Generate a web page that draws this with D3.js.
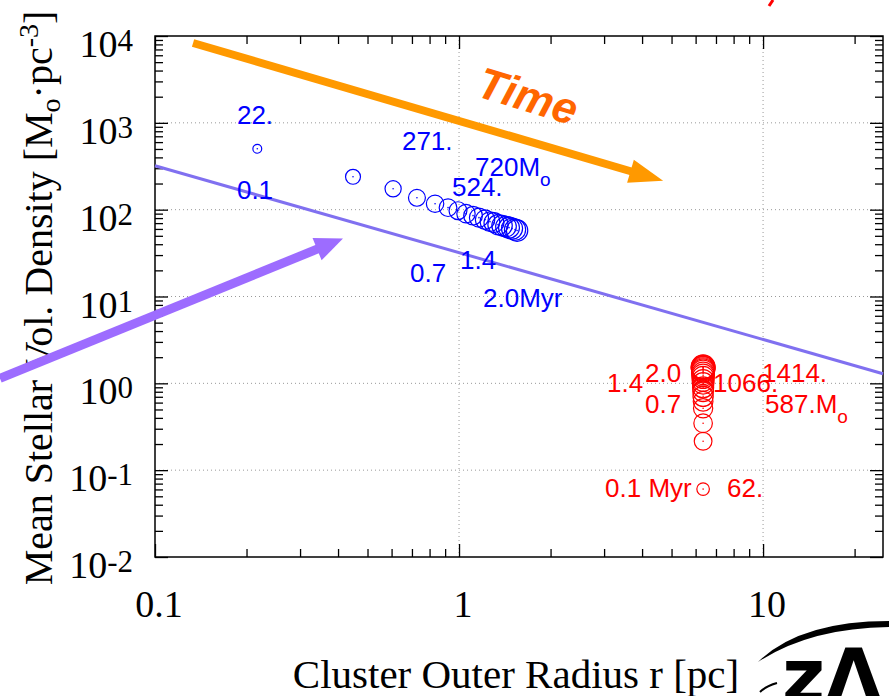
<!DOCTYPE html>
<html>
<head>
<meta charset="utf-8">
<script src="https://cdn.jsdelivr.net/npm/d3@7"></script>
<style>
  body { margin: 0; background: #fff; }
  svg { display: block; }
</style>
</head>
<body>
<div class="chart"></div>
<script>
var svgWidth = 889;
var svgHeight = 696;
var plot = { left: 155, right: 883, top: 36, bottom: 557 };

// blue cluster, one point per 0.1 Myr
var blueTime = [0.1, 0.2, 0.3, 0.4, 0.5, 0.6, 0.7, 0.8, 0.9, 1.0, 1.1, 1.2, 1.3, 1.4, 1.5, 1.6, 1.7, 1.8, 1.9, 2.0];
var blueR    = [0.217, 0.448, 0.607, 0.727, 0.834, 0.920, 0.992, 1.054, 1.112, 1.163, 1.218, 1.264, 1.303, 1.343, 1.385, 1.427, 1.460, 1.494, 1.528, 1.552];
var blueRho  = [502, 239, 174, 137, 117, 105.5, 97.4, 90.0, 85.3, 80.9, 76.7, 72.8, 70.9, 67.2, 65.5, 63.8, 62.1, 60.5, 58.9, 57.4];
var blueMass = [22, 120, 170, 210, 240, 258, 271, 310, 345, 385, 420, 455, 490, 524, 555, 590, 625, 660, 690, 720];

// red cluster, one point per 0.1 Myr
var redTime = [0.1, 0.2, 0.3, 0.4, 0.5, 0.6, 0.7, 0.8, 0.9, 1.0, 1.1, 1.2, 1.3, 1.4, 1.5, 1.6, 1.7, 1.8, 1.9, 2.0];
var redR    = [6.35, 6.35, 6.35, 6.35, 6.35, 6.35, 6.35, 6.35, 6.35, 6.35, 6.35, 6.35, 6.35, 6.35, 6.35, 6.35, 6.35, 6.35, 6.35, 6.35];
var redRho  = [0.0605, 0.215, 0.347, 0.516, 0.621, 0.709, 0.809, 0.900, 1.0, 1.08, 1.17, 1.24, 1.30, 1.37, 1.41, 1.45, 1.49, 1.51, 1.53, 1.55];
var redMass = [62, 260, 330, 400, 460, 530, 587, 660, 730, 800, 870, 940, 1000, 1066, 1130, 1190, 1250, 1310, 1360, 1414];

// rho ~ 1/r reference line
var lineR   = [0.1, 24.8];
var lineRho = [320, 1.29];

// annotations (text, r, rho)
var blueLabels = ["22.", "0.1", "271.", "720M_o", "524.", "0.7", "1.4", "2.0Myr"];
var blueLabelR = [0.186, 0.186, 0.649, 1.129, 0.948, 0.690, 1.008, 1.199];
var blueLabelRho = [974, 133.8, 489.6, 245.9, 144.8, 14.87, 20.98, 7.475];
var redLabels = ["1.4", "2.0", "0.7", "1066.", "1414.", "587.M_o", "0.1 Myr", "62."];
var redLabelR = [3.068, 4.091, 4.091, 6.847, 9.92, 10.15, 3.022, 7.61];
var redLabelRho = [0.788, 1.027, 0.452, 0.788, 1.027, 0.452, 0.0489, 0.0489];

// arrows: [r, rho] start and tip
var timeArrow = [[0.1334, 8310], [4.69, 215.4]];
var purpleArrow = [[0.0309, 1.142], [0.4153, 46.4]];
var timeLabelPos = [1.687, 2043];

// ticks
var xTickValues = [0.1, 1, 10];
var xTickLabels = ["0.1", "1", "10"];
var xMinorValues = [0.2, 0.3, 0.4, 0.5, 0.6, 0.7, 0.8, 0.9, 2, 3, 4, 5, 6, 7, 8, 9, 20];
var yTickValues = [1e-2, 1e-1, 1e0, 1e1, 1e2, 1e3, 1e4];
var yTickExp = ["-2", "-1", "0", "1", "2", "3", "4"];
var yMinorValues = [];
[1e-2, 1e-1, 1e0, 1e1, 1e2, 1e3].forEach(function(d) {
  [2, 3, 4, 5, 6, 7, 8, 9].forEach(function(m) { yMinorValues.push(d * m); });
});

var svg = d3.select(".chart").append("svg")
  .attr("width", svgWidth)
  .attr("height", svgHeight);

var x = d3.scaleLog().domain([0.1, 24.8]).range([plot.left, plot.right]);
var y = d3.scaleLog().domain([1e-2, 1e4]).range([plot.bottom, plot.top]);
var rScale = d3.scaleLog().domain([10, 1500]).range([3, 12]);

var serif = "'Liberation Serif', 'Times New Roman', serif";
var sans = "'Liberation Sans', Arial, Helvetica, sans-serif";

// dotted grid
var grid = svg.append("g").attr("stroke", "#999").attr("stroke-width", 1).attr("stroke-dasharray", "1,3");
[1, 10].forEach(function(v) {
  grid.append("line").attr("x1", x(v)).attr("x2", x(v)).attr("y1", plot.top).attr("y2", plot.bottom);
});
[1e-1, 1, 10, 100, 1000].forEach(function(v) {
  grid.append("line").attr("x1", plot.left).attr("x2", plot.right).attr("y1", y(v)).attr("y2", y(v));
});

// inward ticks on all four sides
function ticks(axis, tx, ty, vals, size) {
  svg.append("g")
    .attr("transform", "translate(" + tx + "," + ty + ")")
    .call(axis.tickValues(vals).tickSize(size).tickFormat(""))
    .call(function(g) { g.select(".domain").remove(); g.selectAll("text").remove(); })
    .selectAll("line").attr("stroke", "#000").attr("stroke-width", 1.3);
}
ticks(d3.axisBottom(x), 0, plot.bottom, xTickValues, -13);
ticks(d3.axisBottom(x), 0, plot.bottom, xMinorValues, -8);
ticks(d3.axisTop(x), 0, plot.top, xTickValues, -13);
ticks(d3.axisTop(x), 0, plot.top, xMinorValues, -8);
ticks(d3.axisLeft(y), plot.left, 0, yTickValues, -13);
ticks(d3.axisLeft(y), plot.left, 0, yMinorValues, -8);
ticks(d3.axisRight(y), plot.right, 0, yTickValues, -13);
ticks(d3.axisRight(y), plot.right, 0, yMinorValues, -8);

svg.append("rect")
  .attr("x", plot.left).attr("y", plot.top)
  .attr("width", plot.right - plot.left).attr("height", plot.bottom - plot.top)
  .attr("fill", "none").attr("stroke", "#000").attr("stroke-width", 1.5);

// tick labels
svg.append("g").selectAll("text")
  .data(xTickValues)
  .enter().append("text")
  .attr("x", function(d) { return x(d) + 4; })
  .attr("y", 617)
  .attr("text-anchor", "middle")
  .style("font", "38px " + serif)
  .text(function(d, i) { return xTickLabels[i]; });

var yl = svg.append("g").selectAll("text")
  .data(yTickValues)
  .enter().append("text")
  .attr("x", 133)
  .attr("y", function(d) { return y(d) + 21; })
  .attr("text-anchor", "end")
  .style("font", "38px " + serif);
yl.append("tspan").text("10");
yl.append("tspan").attr("dy", -6).style("font-size", "31px").text(function(d, i) { return yTickExp[i]; });

// axis titles
svg.append("text")
  .attr("x", 516).attr("y", 688)
  .attr("text-anchor", "middle")
  .style("font", "41px " + serif)
  .text("Cluster Outer Radius r [pc]");

var yt = svg.append("text")
  .attr("transform", "translate(52,298) rotate(-90)")
  .attr("text-anchor", "middle")
  .style("font", "40px " + serif);
yt.append("tspan").text("Mean Stellar Vol. Density [M");
yt.append("tspan").attr("dy", 8).style("font-size", "28px").text("o");
yt.append("tspan").attr("dy", -8).text("\u00b7pc");
yt.append("tspan").attr("dy", -14).style("font-size", "28px").text("-3");
yt.append("tspan").attr("dy", 14).text("]");

// rho ~ 1/r line
var lineData = lineR.map(function(r, i) { return [r, lineRho[i]]; });
svg.append("path")
  .datum(lineData)
  .attr("d", d3.line().x(function(d) { return x(d[0]); }).y(function(d) { return y(d[1]); }))
  .attr("stroke", "#8070f0").attr("stroke-width", 3).attr("fill", "none");

// clusters
function drawCluster(rs, rhos, masses, color) {
  var data = rs.map(function(r, i) { return { r: r, rho: rhos[i], m: masses[i] }; });
  var g = svg.append("g");
  g.selectAll("circle.ring")
    .data(data).enter().append("circle")
    .attr("class", "ring")
    .attr("cx", function(d) { return x(d.r); })
    .attr("cy", function(d) { return y(d.rho); })
    .attr("r", function(d) { return rScale(d.m); })
    .attr("fill", "none").attr("stroke", color).attr("stroke-width", 1.2);
  g.selectAll("circle.dot")
    .data(data).enter().append("circle")
    .attr("class", "dot")
    .attr("cx", function(d) { return x(d.r); })
    .attr("cy", function(d) { return y(d.rho); })
    .attr("r", 0.8)
    .attr("fill", color);
}
drawCluster(blueR, blueRho, blueMass, "#0000ff");
drawCluster(redR, redRho, redMass, "#ff0000");

function drawLabels(texts, rs, rhos, color) {
  texts.forEach(function(t, i) {
    var txt = svg.append("text")
      .attr("x", x(rs[i])).attr("y", y(rhos[i]))
      .attr("fill", color)
      .style("font", "26px " + sans);
    var parts = t.split("M_o");
    txt.append("tspan").text(parts[0]);
    if (parts.length > 1) {
      txt.append("tspan").text("M");
      txt.append("tspan").attr("dy", 10).style("font-size", "19px").text("o");
    }
  });
}
drawLabels(blueLabels, blueLabelR, blueLabelRho, "#0000ff");
drawLabels(redLabels, redLabelR, redLabelRho, "#ff0000");

// arrows
function arrow(pts, color, width, headLen, headHalf) {
  var x1 = x(pts[0][0]), y1 = y(pts[0][1]), x2 = x(pts[1][0]), y2 = y(pts[1][1]);
  var ang = Math.atan2(y2 - y1, x2 - x1);
  var bx = x2 - headLen * Math.cos(ang), by = y2 - headLen * Math.sin(ang);
  svg.append("line")
    .attr("x1", x1).attr("y1", y1).attr("x2", bx + 2 * Math.cos(ang)).attr("y2", by + 2 * Math.sin(ang))
    .attr("stroke", color).attr("stroke-width", width);
  svg.append("polygon")
    .attr("points", [
      [x2, y2],
      [bx + headHalf * Math.sin(ang), by - headHalf * Math.cos(ang)],
      [bx - headHalf * Math.sin(ang), by + headHalf * Math.cos(ang)]
    ].map(function(p) { return p.join(","); }).join(" "))
    .attr("fill", color);
}
arrow(timeArrow, "#ff9900", 8, 34, 12);
arrow(purpleArrow, "#9d6cff", 9, 28, 12);

svg.append("text")
  .attr("transform", "translate(" + x(timeLabelPos[0]) + "," + y(timeLabelPos[1]) + ") rotate(17)")
  .attr("text-anchor", "middle")
  .attr("dy", "0.35em")
  .attr("fill", "#ff6600")
  .style("font", "italic bold 44px " + sans)
  .text("Time");

// red fragment at the top edge
svg.append("path").attr("d", "M773,0 L769,6").attr("stroke", "#ff0000").attr("stroke-width", 3);

// logo, bottom right corner
var logo = svg.append("g");
logo.append("path")
  .attr("d", "M758,662 Q800,621 889,621 L889,627 Q810,628 758,662 Z")
  .attr("fill", "#000");
logo.append("path")
  .attr("d", "M760,692 Q766,686 777,683")
  .attr("stroke", "#000").attr("stroke-width", 2).attr("fill", "none");
logo.append("text")
  .attr("x", 782).attr("y", 702)
  .style("font", "bold 74px 'DejaVu Sans', sans-serif")
  .text("z\u039b");
</script>
</body>
</html>
